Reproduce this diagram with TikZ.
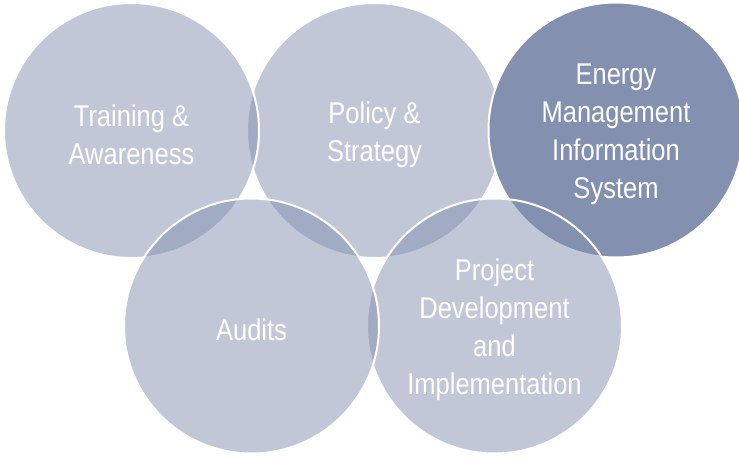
\documentclass[tikz,border=0pt]{standalone}
\usepackage{fontspec}
\setmainfont{Liberation Sans}[FakeStretch=0.85]
\definecolor{ringblue}{HTML}{8390B0}
\begin{document}
\begin{tikzpicture}[x=1pt,y=-1pt,
  ring/.style={circle, minimum size=255pt, inner sep=0pt,
    draw=white, line width=2pt, fill=ringblue, fill opacity=0.5},
  keyring/.style={ring, fill opacity=1},
  ringtext/.style={text=white, align=center, inner sep=0pt, yshift=-4pt,
    font=\fontsize{30}{38}\selectfont}]
\clip (0,0) rectangle (739,458);
% top row, back to front
\node[ring] (policy) at (374.5,130.5) {};
\node[ring] (training) at (131.5,130.5) {};
\node[keyring] (emis) at (616,130) {};
% bottom row
\node[ring] (project) at (494.5,326) {};
\node[ring] (audits) at (251.5,326) {};
% captions
\node[ringtext] (policy-text) at (policy) {Policy \&\\Strategy};
\node[ringtext] (training-text) at (training) {Training \&\\Awareness};
\node[ringtext] (emis-text) at (emis) {Energy\\Management\\Information\\System};
\node[ringtext] (project-text) at (project) {Project\\Development\\and\\Implementation};
\node[ringtext] (audits-text) at (audits) {Audits};
\end{tikzpicture}
\end{document}
